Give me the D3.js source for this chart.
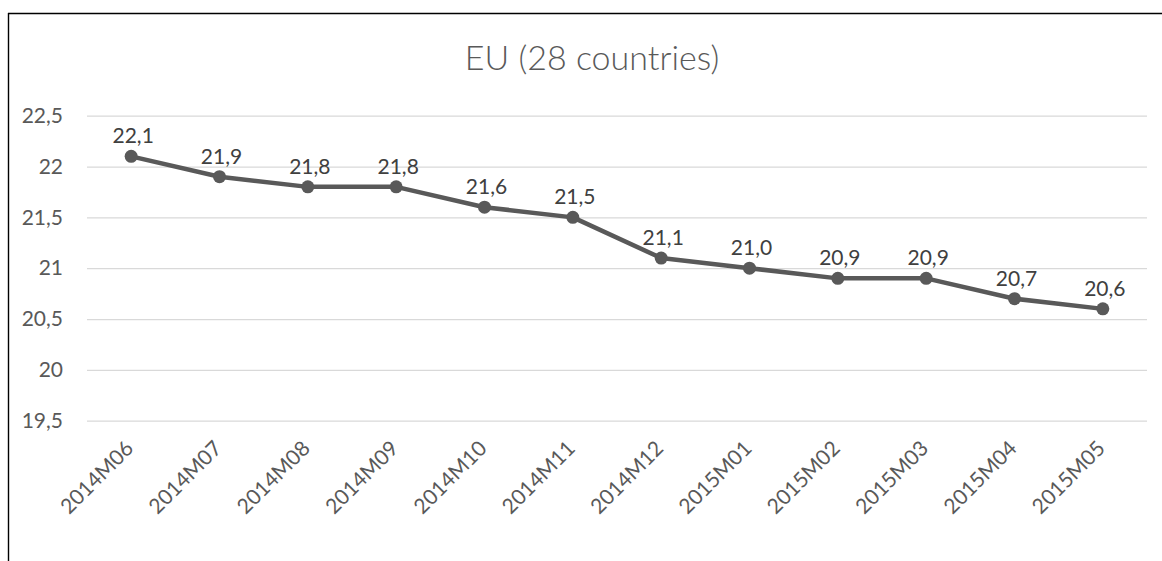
<!DOCTYPE html>
<html>
<head>
<meta charset="utf-8">
<script src="https://cdn.jsdelivr.net/npm/d3@7"></script>
<style>
  body { margin: 0; background: #fff; }
  svg { display: block; font-family: Lato, "Open Sans", sans-serif; }
</style>
</head>
<body>
<svg width="1162" height="561"></svg>
<script>
const title = 'EU (28 countries)';

const months = [
  '2014M06', '2014M07', '2014M08', '2014M09', '2014M10', '2014M11',
  '2014M12', '2015M01', '2015M02', '2015M03', '2015M04', '2015M05'
];

const values = [22.1, 21.9, 21.8, 21.8, 21.6, 21.5, 21.1, 21.0, 20.9, 20.9, 20.7, 20.6];

const yTicks = [19.5, 20, 20.5, 21, 21.5, 22, 22.5];

const svg = d3.select('svg');
const grey = '#595959';

const comma = v => String(v).replace('.', ',');

const x = d3.scalePoint()
  .domain(months)
  .range([87, 1147])
  .padding(0.5);

const y = d3.scaleLinear()
  .domain([19.5, 22.5])
  .range([420.7, 115.7]);

// chart frame (only top and left edges visible)
svg.append('line')
  .attr('x1', 8).attr('x2', 1162)
  .attr('y1', 13.5).attr('y2', 13.5)
  .attr('stroke', '#000').attr('stroke-width', 1.4);
svg.append('line')
  .attr('x1', 8.5).attr('x2', 8.5)
  .attr('y1', 13).attr('y2', 561)
  .attr('stroke', '#000').attr('stroke-width', 1.4);

svg.append('text')
  .attr('x', 592)
  .attr('y', 70)
  .attr('text-anchor', 'middle')
  .attr('fill', grey)
  .style('font-size', '34px')
  .style('font-weight', 300)
  .text(title);

// gridlines + y labels
const yAxis = d3.axisLeft(y)
  .tickValues(yTicks)
  .tickSize(-(1147 - 87))
  .tickPadding(24)
  .tickFormat(comma);

svg.append('g')
  .attr('transform', 'translate(87,0)')
  .call(yAxis)
  .call(g => g.select('.domain').remove())
  .call(g => g.selectAll('.tick line').attr('stroke', '#d9d9d9').attr('stroke-width', 1.2))
  .call(g => g.selectAll('.tick text')
    .attr('fill', grey)
    .style('font-size', '21px')
    .style('font-family', 'Lato, sans-serif'));

// x labels
const xAxis = d3.axisBottom(x).tickSize(0).tickPadding(0);

svg.append('g')
  .attr('transform', `translate(0,${ y(19.5) })`)
  .call(xAxis)
  .call(g => g.select('.domain').remove())
  .call(g => g.selectAll('.tick text')
    .attr('fill', grey)
    .attr('text-anchor', 'end')
    .attr('dy', 0)
    .attr('transform', 'translate(3,29) rotate(-45)')
    .style('font-size', '21px')
    .style('font-family', 'Lato, sans-serif'));

const line = d3.line()
  .x((d, i) => x(months[i]))
  .y(d => y(d));

svg.append('path')
  .datum(values)
  .attr('d', line)
  .attr('fill', 'none')
  .attr('stroke', grey)
  .attr('stroke-width', 4.5)
  .attr('stroke-linejoin', 'round');

svg.selectAll('circle.pt')
  .data(values)
  .enter()
  .append('circle')
  .attr('class', 'pt')
  .attr('cx', (d, i) => x(months[i]))
  .attr('cy', d => y(d))
  .attr('r', 6.5)
  .attr('fill', grey);

svg.selectAll('text.lbl')
  .data(values)
  .enter()
  .append('text')
  .attr('class', 'lbl')
  .attr('x', (d, i) => x(months[i]) + 2)
  .attr('y', d => y(d) - 13)
  .attr('text-anchor', 'middle')
  .attr('fill', '#404040')
  .style('font-size', '21px')
  .text(d => d.toFixed(1).replace('.', ','));
</script>
</body>
</html>
